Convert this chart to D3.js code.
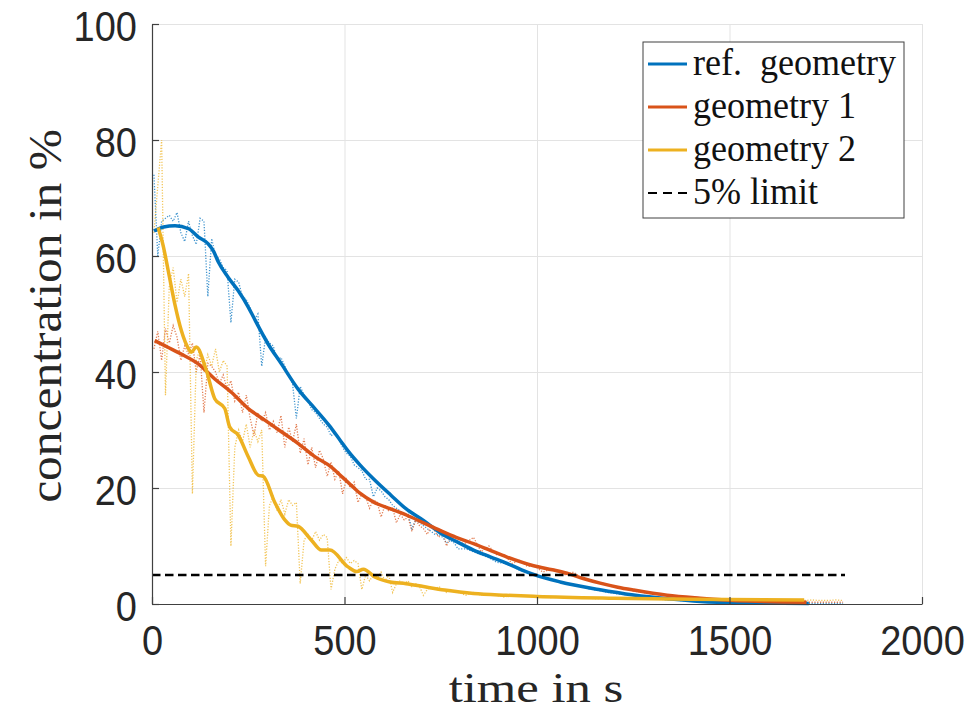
<!DOCTYPE html>
<html>
<head>
<meta charset="utf-8">
<script src="https://cdn.jsdelivr.net/npm/d3@7"></script>
<style>
  body { margin: 0; background: #fff; }
  svg { display: block; }
</style>
</head>
<body>
<div id="chart"></div>
<script>
// smoothed curves (time in s, concentration in %)
const refTime  = [5, 30, 60, 95, 120, 146, 160, 172, 198, 224, 250, 265, 276, 300, 336, 380, 423, 460, 489, 509, 540, 575, 620, 662, 705, 748, 790, 835, 880, 922, 960, 991, 1060, 1160, 1251, 1340, 1424, 1550, 1706];
const refSmooth = [64.3, 65.0, 65.2, 64.7, 63.3, 62.1, 60.8, 59.0, 56.3, 54.0, 51.2, 49.3, 47.9, 45.0, 41.4, 37.0, 33.7, 30.8, 28.2, 26.4, 24.0, 21.6, 18.8, 16.3, 14.4, 12.3, 10.8, 9.3, 8.1, 7.0, 5.9, 5.1, 3.8, 2.5, 1.55, 0.9, 0.45, 0.2, 0.1];

const g1Time  = [7, 40, 76, 120, 163, 206, 250, 293, 336, 379, 423, 466, 489, 509, 540, 575, 620, 662, 705, 748, 790, 835, 880, 922, 991, 1040, 1078, 1120, 1164, 1210, 1251, 1338, 1424, 1550, 1700];
const g1Smooth = [45.4, 44.3, 43.1, 41.4, 38.8, 36.5, 33.7, 31.7, 29.7, 27.7, 25.4, 23.6, 22.2, 21.0, 19.1, 17.6, 16.4, 15.3, 14.0, 12.7, 11.5, 10.4, 9.2, 8.1, 6.6, 5.9, 5.3, 4.4, 3.6, 2.9, 2.4, 1.5, 1.0, 0.5, 0.3];

const g2Time  = [16, 30, 42, 59, 76, 95, 102, 115, 141, 163, 189, 202, 224, 250, 276, 289, 319, 345, 360, 379, 414, 440, 462, 509, 532, 549, 580, 618, 660, 705, 760, 835, 920, 1000, 1200, 1400, 1694];
const g2Smooth = [64.9, 61.5, 57.5, 51.8, 47.2, 44.0, 43.4, 44.3, 40.3, 35.4, 33.7, 30.5, 29.1, 25.4, 22.2, 22.0, 17.5, 14.5, 13.6, 13.4, 11.0, 9.3, 9.3, 6.4, 5.6, 6.0, 4.6, 3.8, 3.5, 3.0, 2.4, 1.8, 1.5, 1.3, 1.0, 0.8, 0.7];

// raw (unsmoothed) measurements
const rawTime = [5, 15, 25, 35, 45, 55, 65, 75, 85, 95, 105, 115, 125, 135, 145, 155, 165, 175, 185, 195,
  205, 215, 225, 235, 245, 255, 265, 275, 285, 295, 305, 315, 325, 335, 345, 355, 365, 375, 385, 395,
  405, 415, 425, 435, 445, 455, 465, 475, 485, 495, 505, 515, 525, 535, 545, 555, 565, 575, 585, 595,
  605, 615, 625, 635, 645, 655, 665, 675, 685, 695, 705, 715, 725, 735, 745, 755, 765, 775, 785, 795,
  815, 835, 855, 875, 895, 915, 935, 955, 975, 995, 1015, 1035, 1055, 1075, 1095, 1115, 1135, 1155, 1175, 1195,
  1215, 1235, 1255, 1275, 1295, 1315, 1335, 1355, 1375, 1395, 1415, 1435, 1455, 1475, 1495, 1515, 1535, 1555, 1575, 1595,
  1615, 1635, 1655, 1675, 1695, 1715, 1735, 1755, 1775, 1795];

const refRaw = [74, 60, 66, 66.5, 67, 66, 67.5, 64, 62.5, 66, 63.5, 62, 66.5, 66, 53, 63, 60, 59.5, 58, 57.5,
  48.5, 56, 55.5, 53, 52.5, 51, 49, 50, 41, 46, 45, 44.5, 42, 42.5, 41, 39.5, 38, 32, 37.5, 36,
  35, 33.5, 33, 32, 31, 30.5, 29, 29.5, 28.5, 27, 26, 25.5, 24, 23.5, 23, 21.5, 21.5, 18.5, 20, 19.5,
  18.5, 18, 17, 16.5, 16, 15.5, 15.5, 13, 14.5, 14, 13.5, 13, 12.5, 12, 12, 11.5, 10.5, 11, 10.5, 9.5,
  9.5, 9, 8.5, 8, 7.2, 7, 6.5, 5.8, 5.5, 5, 4.5, 4.2, 3.8, 3.5, 3.2, 3, 2.6, 2.4, 2.1, 1.9,
  1.7, 1.6, 1.4, 1.2, 1.1, 1.0, 0.9, 0.8, 0.6, 0.5, 0.45, 0.4, 0.35, 0.3, 0.3, 0.25, 0.2, 0.2, 0.2, 0.15,
  0.15, 0.1, 0.1, 0.1, 0.1, 0.1, 0.1, 0.1, 0.1, 0.1];

const g1Raw = [44, 47, 42, 47.5, 45, 48, 46, 42, 44.5, 43, 45, 40, 43, 33, 41.5, 41, 40, 38, 39.5, 37,
  38.5, 35, 36.5, 33, 36, 32, 29, 33, 31.5, 33, 30, 31.5, 29.5, 32.5, 27, 30.5, 28, 31, 26, 28.5,
  24, 27, 23.5, 26.5, 25, 22, 24.5, 21.5, 23, 19, 21.5, 20, 21, 17.5, 19, 18.5, 16.5, 18, 17.5, 15,
  17, 16, 16.5, 14, 15.5, 14.5, 15, 12.5, 14.5, 13.5, 13, 12, 13.5, 12.5, 11.5, 12.5, 10, 11.5, 11, 10.5,
  10.5, 11.5, 9, 10, 8.5, 8.5, 7, 7.5, 6.5, 6.5, 5.5, 6, 5.5, 5, 5.5, 4.5, 4.2, 3.8, 3.5, 3,
  2.8, 2.5, 2.2, 2, 1.8, 1.6, 1.5, 1.3, 1.2, 1.1, 1, 0.9, 0.8, 0.7, 0.6, 0.55, 0.5, 0.5, 0.45, 0.4,
  0.4, 0.35, 0.3, 0.3, 0.3, 0.3, 0.3, 0.3, 0.3, 0.3];

const g2Raw = [64, 72, 80, 36, 55, 58, 52, 56, 53, 57, 19, 42, 44, 40, 43, 41, 44, 40, 42, 41,
  10, 27, 30, 28, 31, 27, 30, 28, 30, 6.5, 17, 18.5, 16, 18, 15.5, 18, 17, 17.5, 3.5, 11,
  12, 11, 12.5, 11, 12, 11.5, 2.5, 6, 7.5, 7, 8, 7, 7.5, 7, 2.5, 5, 4, 5, 4.5, 5.5,
  4, 5, 2, 3.5, 4, 3.5, 4, 3, 3.5, 3, 1.5, 2.5, 3, 2.5, 3, 2.5, 2, 2.5, 2, 2,
  1.5, 2, 1.5, 1.8, 1.5, 1.2, 1.5, 1.3, 1.4, 1.2, 1.3, 1.1, 1.2, 1.0, 1.1, 1.0, 1.0, 0.9, 1.0, 0.9,
  0.9, 0.8, 0.9, 0.8, 0.8, 0.8, 0.7, 0.8, 0.7, 0.7, 0.7, 0.8, 0.7, 0.7, 0.7, 0.6, 0.7, 0.7, 0.6, 0.7,
  0.7, 0.6, 0.7, 0.7, 0.6, 0.7, 0.6, 0.6, 0.7, 0.6];

const limitTime = [0, 1800];
const limitValue = [5, 5];

const seriesNames = ["ref. geometry", "geometry 1", "geometry 2"];
const xTicks = [0, 500, 1000, 1500, 2000];
const yTicks = [0, 20, 40, 60, 80, 100];

const colors = ["#0072BD", "#D95319", "#EDB120"];

const W = 970, H = 712;
const margin = {left: 152, top: 24, right: 48, bottom: 108};
const width = W - margin.left - margin.right,
      height = H - margin.top - margin.bottom;

const svg = d3.select("#chart").append("svg")
    .attr("width", W)
    .attr("height", H);

const g = svg.append("g")
    .attr("transform", "translate(" + margin.left + "," + margin.top + ")");

const x = d3.scaleLinear().domain([0, 2000]).range([0, width]);
const y = d3.scaleLinear().domain([0, 100]).range([height, 0]);

const stretch = "scale(1,1.1)";

// grid
g.append("g")
  .attr("transform", `translate(0,${height})`)
  .call(d3.axisBottom(x).tickValues(xTicks).tickSize(-height).tickFormat(""))
  .call(a => a.select(".domain").remove())
  .selectAll("line").attr("stroke", "#e3e3e3").attr("stroke-width", 1);
g.append("g")
  .call(d3.axisLeft(y).tickValues(yTicks).tickSize(-width).tickFormat(""))
  .call(a => a.select(".domain").remove())
  .selectAll("line").attr("stroke", "#e3e3e3").attr("stroke-width", 1);

// raw dotted curves
const rawSets = [refRaw, g1Raw, g2Raw];
const rawLine = d3.line()
  .x((d, i) => x(rawTime[i]))
  .y(d => y(d));
rawSets.forEach(function(vals, k) {
  g.append("path")
    .datum(vals)
    .attr("fill", "none")
    .attr("stroke", colors[k])
    .attr("stroke-width", 1.3)
    .attr("stroke-dasharray", "1.2 1.6")
    .attr("opacity", 0.75)
    .attr("d", rawLine);
});

// smoothed curves
const smoothSets = [[refTime, refSmooth], [g1Time, g1Smooth], [g2Time, g2Smooth]];
smoothSets.forEach(function(s, k) {
  const line = d3.line()
    .x((d, i) => x(s[0][i]))
    .y(d => y(d))
    .curve(d3.curveMonotoneX);
  g.append("path")
    .datum(s[1])
    .attr("fill", "none")
    .attr("stroke", colors[k])
    .attr("stroke-width", 3.5)
    .attr("d", line);
});

// 5% limit
g.append("path")
  .datum(limitValue)
  .attr("fill", "none")
  .attr("stroke", "#000")
  .attr("stroke-width", 2.5)
  .attr("stroke-dasharray", "8.5 4.5")
  .attr("d", d3.line().x((d, i) => x(limitTime[i])).y(d => y(d)));

// axes
const xAxis = g.append("g")
  .attr("transform", `translate(0,${height})`)
  .call(d3.axisBottom(x).tickValues(xTicks).tickFormat(d3.format("d"))
    .tickSizeInner(-7).tickSizeOuter(0).tickPadding(19));
const yAxis = g.append("g")
  .call(d3.axisLeft(y).tickValues(yTicks).tickFormat(d3.format("d"))
    .tickSizeInner(-7).tickSizeOuter(0).tickPadding(15));

[xAxis, yAxis].forEach(function(a) {
  a.select(".domain").attr("stroke", "#404040").attr("stroke-width", 1.2);
  a.selectAll(".tick line").attr("stroke", "#404040").attr("stroke-width", 1.2);
  a.selectAll(".tick text")
    .attr("fill", "#262626")
    .style("font-family", "'Liberation Sans', Arial, sans-serif")
    .style("font-size", "38px")
    .attr("transform", stretch);
});
yAxis.selectAll(".tick text").attr("dy", "0.4em");

// axis titles
const serif = "'Liberation Serif', 'Times New Roman', serif";
svg.append("text")
  .attr("transform", "translate(536,702) scale(1.18,1.0)")
  .attr("text-anchor", "middle")
  .style("font-family", serif)
  .style("font-size", "43px")
  .attr("fill", "#262626")
  .text("time in s");

svg.append("text")
  .attr("transform", "translate(61,316) rotate(-90) scale(1.1,1.02)")
  .attr("text-anchor", "middle")
  .style("font-family", serif)
  .style("font-size", "45px")
  .attr("fill", "#262626")
  .text("concentration in %");

// legend
const legend = svg.append("g").attr("transform", "translate(643,42)");
legend.append("rect")
  .attr("width", 261)
  .attr("height", 176)
  .attr("fill", "#fff")
  .attr("stroke", "#404040")
  .attr("stroke-width", 1);

const legendItems = seriesNames.map((n, i) => ({name: n, color: colors[i], dash: null}))
  .concat([{name: "5% limit", color: "#000", dash: "9 6"}]);

legendItems.forEach(function(d, i) {
  const row = legend.append("g").attr("transform", `translate(0,${22 + i * 43})`);
  row.append("line")
    .attr("x1", 5).attr("x2", 44)
    .attr("stroke", d.color)
    .attr("stroke-width", d.dash ? 2 : 3)
    .attr("stroke-dasharray", d.dash);
  row.append("text")
    .attr("transform", "translate(50,11) scale(1.03,1.1)")
    .style("font-family", serif)
    .style("font-size", "35px")
    .attr("fill", "#111")
    .text(d.name === "ref. geometry" ? "ref.\u00a0 geometry" : d.name);
});
</script>
</body>
</html>
